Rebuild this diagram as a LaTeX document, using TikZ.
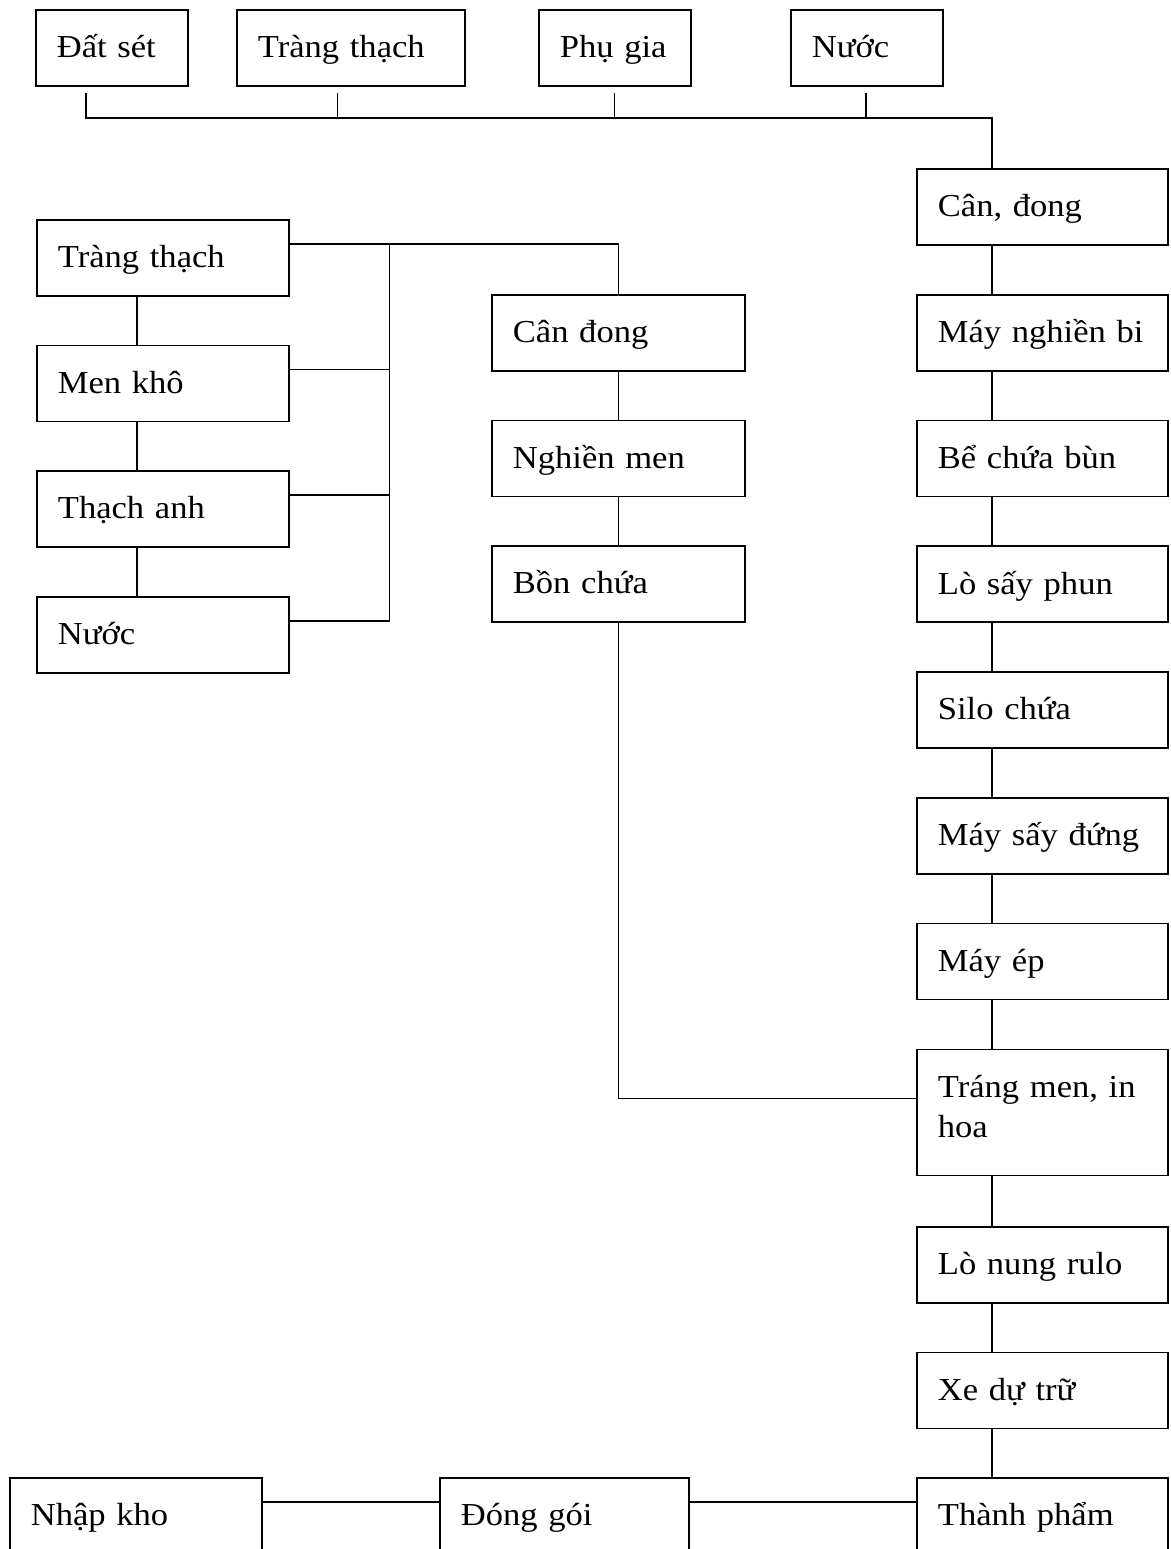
\documentclass[tikz,border=0pt]{standalone}
\usepackage{fontspec}
\setmainfont{Liberation Serif}[FakeStretch=1.08]
\usetikzlibrary{calc}
\tikzset{
  bx/.style={draw, line width=1.8pt, anchor=north west, inner xsep=21pt, inner ysep=15pt,
    text height=33pt, text depth=13pt, align=left, font=\fontsize{32}{40}\selectfont},
  wide/.style={text width=210pt},
  conn/.style={line width=1.8pt}
}
\begin{document}
\begin{tikzpicture}[x=1pt,y=-1pt]
\useasboundingbox (0,0) rectangle (1170,1549);
\fill[white] (0,0) rectangle (1170,1549);
% top row
\node[bx, text width=110pt] (a1) at (35,9) {Đất sét};
\node[bx, text width=186pt] (a2) at (236,9) {Tràng thạch};
\node[bx, text width=110pt] (a3) at (538,9) {Phụ gia};
\node[bx, text width=110pt] (a4) at (790,9) {Nước};
% right column
\node[bx, text width=209pt] (c1) at (916,168) {Cân, đong};
\node[bx, text width=209pt] (c2) at (916,293.75) {Máy nghiền bi};
\node[bx, text width=209pt] (c3) at (916,419.5) {Bể chứa bùn};
\node[bx, text width=209pt] (c4) at (916,545.25) {Lò sấy phun};
\node[bx, text width=209pt] (c5) at (916,671) {Silo chứa};
\node[bx, text width=209pt] (c6) at (916,796.75) {Máy sấy đứng};
\node[bx, text width=209pt] (c7) at (916,922.5) {Máy ép};
\node[bx, text width=209pt, text depth=63pt] (c8) at (916,1048.5) {Tráng men, in\\hoa};
\node[bx, text width=209pt] (c9) at (916,1226) {Lò nung rulo};
\node[bx, text width=209pt] (c10) at (916,1351.5) {Xe dự trữ};
\node[bx, text width=209pt] (c11) at (916,1477) {Thành phẩm};
% left column
\node[bx, text width=210pt] (b1) at (36,219) {Tràng thạch};
\node[bx, text width=210pt] (b2) at (36,344.5) {Men khô};
\node[bx, text width=210pt] (b3) at (36,470) {Thạch anh};
\node[bx, text width=210pt] (b4) at (36,596) {Nước};
% middle column
\node[bx, text width=211pt] (m1) at (491,294) {Cân đong};
\node[bx, text width=211pt] (m2) at (491,419.5) {Nghiền men};
\node[bx, text width=211pt] (m3) at (491,545) {Bồn chứa};
% bottom row
\node[bx, text width=210pt] (d1) at (9,1477) {Nhập kho};
\node[bx, text width=207pt] (d2) at (439,1477) {Đóng gói};

% helper coordinates
\coordinate (rx) at (992,0);
\coordinate (lx) at (137,0);
\coordinate (bus) at (389.5,0);
\coordinate (s1) at (86,93);
\coordinate (s2) at (337.5,93);
\coordinate (s3) at (614.5,93);
\coordinate (s4) at (866,93);
\coordinate (hb) at (0,118);

% top collector
\draw[conn] (s1) -- (s1 |- hb) -- (hb -| rx) -- (c1.north -| rx);
\draw[conn] (s2) -- (s2 |- hb);
\draw[conn] (s3) -- (s3 |- hb);
\draw[conn] (s4) -- (s4 |- hb);

% right column chain
\foreach \u/\v in {c1/c2,c2/c3,c3/c4,c4/c5,c5/c6,c6/c7,c7/c8,c8/c9,c9/c10,c10/c11}
  \draw[conn] (\u.south -| rx) -- (\v.north -| rx);

% left column chain
\foreach \u/\v in {b1/b2,b2/b3,b3/b4}
  \draw[conn] (\u.south -| lx) -- (\v.north -| lx);

% bus to middle column
\coordinate (e1) at ([yshift=-25pt]b1.north east);
\coordinate (e2) at ([yshift=-25pt]b2.north east);
\coordinate (e3) at ([yshift=-25pt]b3.north east);
\coordinate (e4) at ([yshift=-25pt]b4.north east);
\draw[conn] (e1) -| (m1.north);
\draw[conn] (e2) -- (e2 -| bus);
\draw[conn] (e3) -- (e3 -| bus);
\draw[conn] (e4) -- (e4 -| bus);
\draw[conn] (e1 -| bus) -- (e4 -| bus);

% middle chain
\draw[conn] (m1.south) -- (m2.north);
\draw[conn] (m2.south) -- (m3.north);
\coordinate (t8) at ([yshift=-50pt]c8.north west);
\draw[conn] (m3.south) |- (t8);

% bottom row
\coordinate (f1) at ([yshift=-25pt]d1.north east);
\coordinate (f2) at ([yshift=-25pt]d2.north east);
\draw[conn] (f1) -- (f1 -| d2.west);
\draw[conn] (f2) -- (f2 -| c11.west);
\end{tikzpicture}
\end{document}
